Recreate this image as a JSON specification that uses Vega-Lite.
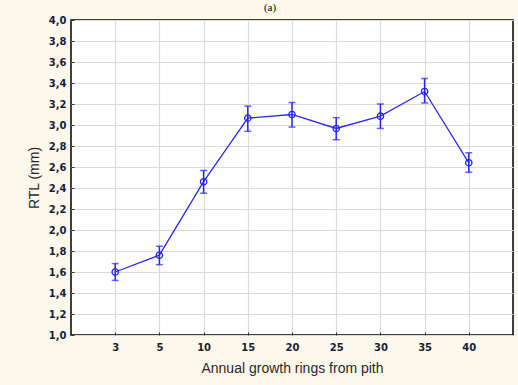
{
  "$schema": "https://vega.github.io/schema/vega-lite/v6.json",
  "width": 442,
  "height": 315,
  "autosize": {"type": "none"},
  "padding": {"left": 71, "top": 20, "right": 5, "bottom": 50},
  "background": "#fdf8ec",
  "title": {"text": "(a)", "fontSize": 11, "fontWeight": "normal", "font": "Liberation Serif", "color": "#000000", "baseline": "bottom", "offset": 0, "dy": 9, "dx": -22},
  "config": {
    "view": {"stroke": "#000000", "strokeWidth": 1.5, "fill": "#ffffff"},
    "axis": {"labelFont": "DejaVu Sans", "labelFontWeight": "bold", "titleFont": "Liberation Sans", "labelColor": "#1c1c3a", "titleColor": "#2a2a2a", "gridColor": "#dadada", "gridWidth": 1.2, "domain": false, "tickColor": "#333333", "labelOverlap": false}
  },
  "data": {
    "values": [
      {"ring": "3", "rtl": 1.60, "lo": 1.52, "hi": 1.68},
      {"ring": "5", "rtl": 1.76, "lo": 1.67, "hi": 1.845},
      {"ring": "10", "rtl": 2.46, "lo": 2.35, "hi": 2.567},
      {"ring": "15", "rtl": 3.065, "lo": 2.94, "hi": 3.18},
      {"ring": "20", "rtl": 3.10, "lo": 2.98, "hi": 3.214},
      {"ring": "25", "rtl": 2.967, "lo": 2.86, "hi": 3.07},
      {"ring": "30", "rtl": 3.084, "lo": 2.967, "hi": 3.2},
      {"ring": "35", "rtl": 3.319, "lo": 3.21, "hi": 3.443},
      {"ring": "40", "rtl": 2.64, "lo": 2.55, "hi": 2.735}
    ]
  },
  "encoding": {
    "x": {
      "field": "ring", "type": "ordinal", "sort": null,
      "scale": {"type": "point", "padding": 1},
      "axis": {"title": "Annual growth rings from pith", "labelAngle": 0, "labelFontSize": 10, "titleFontSize": 14, "titleFontWeight": "normal", "tickSize": -3, "labelPadding": 10, "titlePadding": 9, "grid": true}
    }
  },
  "layer": [
    {
      "mark": {"type": "line", "color": "#2a2aff", "strokeWidth": 1.3, "point": {"filled": false, "shape": "circle", "size": 40, "stroke": "#2424ff", "strokeWidth": 1.3, "fill": "#ffffff", "fillOpacity": 0}},
      "encoding": {
        "y": {
          "field": "rtl", "type": "quantitative",
          "scale": {"domain": [1.0, 4.0], "nice": false, "zero": false},
          "axis": {"title": "RTL (mm)", "values": [1.0,1.2,1.4,1.6,1.8,2.0,2.2,2.4,2.6,2.8,3.0,3.2,3.4,3.6,3.8,4.0], "labelExpr": "replace(format(datum.value, '.1f'), '.', ',')", "labelFontSize": 10, "titleFontSize": 14, "titleFontWeight": "normal", "tickSize": -3, "labelPadding": 8, "titlePadding": 7, "grid": true}
        }
      }
    },
    {
      "mark": {"type": "rule", "color": "#2424ff", "strokeWidth": 1.5},
      "encoding": {
        "y": {"field": "lo", "type": "quantitative", "scale": {"domain": [1.0, 4.0], "nice": false, "zero": false},
          "axis": {"title": "RTL (mm)", "values": [1.0,1.2,1.4,1.6,1.8,2.0,2.2,2.4,2.6,2.8,3.0,3.2,3.4,3.6,3.8,4.0], "labelExpr": "replace(format(datum.value, '.1f'), '.', ',')", "labelFontSize": 10, "titleFontSize": 14, "titleFontWeight": "normal", "tickSize": -3, "labelPadding": 8, "titlePadding": 7, "grid": true}},
        "y2": {"field": "hi"}
      }
    },
    {
      "mark": {"type": "tick", "color": "#2424ff", "orient": "horizontal", "size": 7, "thickness": 1.5},
      "encoding": {"y": {"field": "lo", "type": "quantitative", "scale": {"domain": [1.0, 4.0], "nice": false, "zero": false},
          "axis": {"title": "RTL (mm)", "values": [1.0,1.2,1.4,1.6,1.8,2.0,2.2,2.4,2.6,2.8,3.0,3.2,3.4,3.6,3.8,4.0], "labelExpr": "replace(format(datum.value, '.1f'), '.', ',')", "labelFontSize": 10, "titleFontSize": 14, "titleFontWeight": "normal", "tickSize": -3, "labelPadding": 8, "titlePadding": 7, "grid": true}}}
    },
    {
      "mark": {"type": "tick", "color": "#2424ff", "orient": "horizontal", "size": 7, "thickness": 1.5},
      "encoding": {"y": {"field": "hi", "type": "quantitative", "scale": {"domain": [1.0, 4.0], "nice": false, "zero": false},
          "axis": {"title": "RTL (mm)", "values": [1.0,1.2,1.4,1.6,1.8,2.0,2.2,2.4,2.6,2.8,3.0,3.2,3.4,3.6,3.8,4.0], "labelExpr": "replace(format(datum.value, '.1f'), '.', ',')", "labelFontSize": 10, "titleFontSize": 14, "titleFontWeight": "normal", "tickSize": -3, "labelPadding": 8, "titlePadding": 7, "grid": true}}}
    }
  ]
}
